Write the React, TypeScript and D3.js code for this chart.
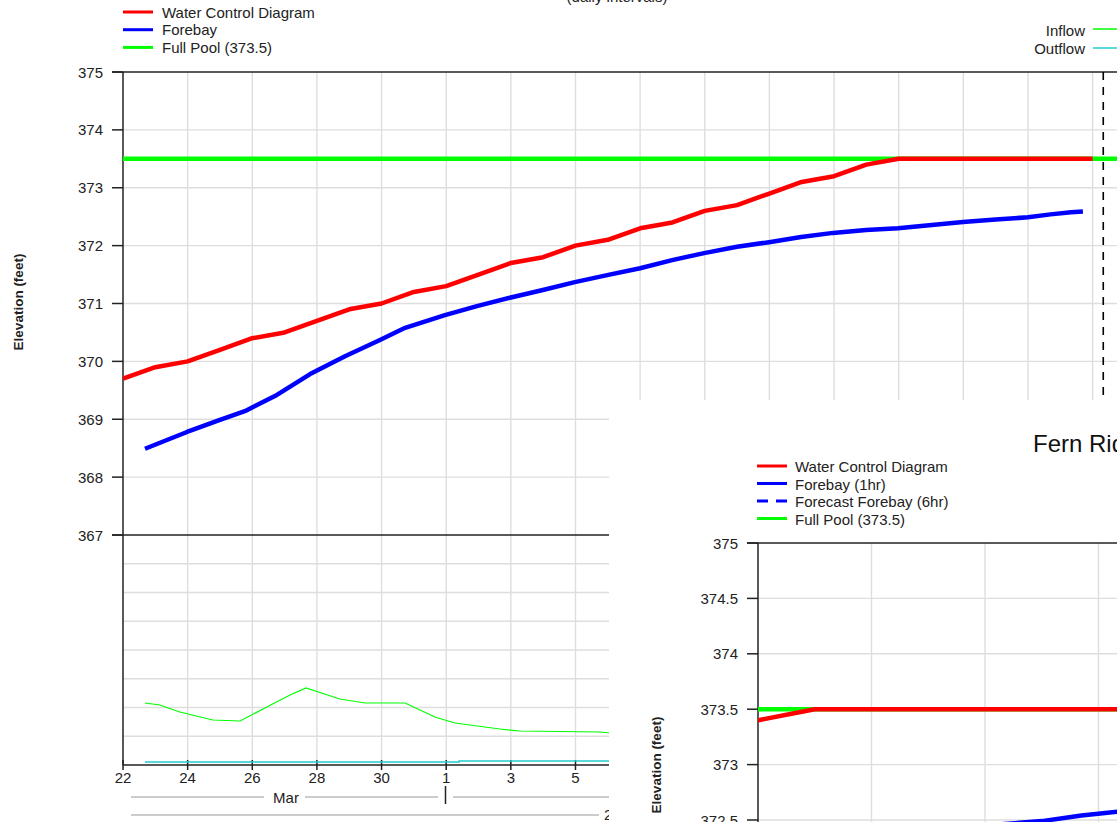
import React from 'react';
import * as d3 from 'd3';

const START = Date.UTC(2017, 2, 22);
const DAY = 86400000;
const day = (o: number) => new Date(START + o * DAY);

// Water Control Diagram (daily) – days after Mar 22
const wcdDay = [0, 1, 2, 3, 4, 5, 6, 7, 8, 9, 10, 11, 12, 13, 14, 15, 16, 17, 18, 19, 20, 21, 22, 23, 24, 25, 26, 27, 28, 29, 30];
const wcdElev = [369.7, 369.9, 370.0, 370.2, 370.4, 370.5, 370.7, 370.9, 371.0, 371.2, 371.3, 371.5, 371.7, 371.8, 372.0, 372.1, 372.3, 372.4, 372.6, 372.7, 372.9, 373.1, 373.2, 373.4, 373.5, 373.5, 373.5, 373.5, 373.5, 373.5, 373.5];

// Forebay
const forebayDay = [0.68, 1.98, 3.0, 3.77, 4.7, 5.79, 6.87, 7.95, 8.73, 9.96, 10.98, 11.97, 12.96, 13.98, 14.98, 16.0, 16.99, 17.98, 19.0, 19.99, 20.98, 21.97, 22.99, 23.98, 25.99, 27.0, 28.0, 28.7, 29.33, 29.7];
const forebayElev = [368.49, 368.78, 368.99, 369.14, 369.4, 369.78, 370.09, 370.37, 370.58, 370.8, 370.96, 371.1, 371.23, 371.37, 371.49, 371.61, 371.75, 371.87, 371.98, 372.06, 372.15, 372.22, 372.27, 372.3, 372.41, 372.45, 372.49, 372.54, 372.575, 372.59];

// Inflow / Outflow (cfs)
const inflowDay = [0.68, 1.14, 1.76, 2.78, 3.62, 4.39, 5.17, 5.66, 6.71, 7.49, 8.73, 9.65, 10.27, 11.66, 12.28, 14.76, 15.07, 16.0];
const inflowCfs = [1078, 1043, 922, 783, 765, 991, 1217, 1339, 1148, 1078, 1078, 835, 730, 626, 591, 574, 557, 550];
const outflowDay = [0.68, 10.4, 16.0];
const outflowCfs = [52, 70, 70];

const FULL_POOL = 373.5;
const NOW_DAY = 30.33;

const elevTicks = [367, 368, 369, 370, 371, 372, 373, 374, 375];
const insetTicks = [372.5, 373, 373.5, 374, 374.5, 375];
const insetTickLabels = ['372.5', '373', '373.5', '374', '374.5', '375'];
const xTickDays = [0, 2, 4, 6, 8, 10, 12, 14, 16, 18, 20, 22, 24, 26, 28, 30];
const xTickLabels = ['22', '24', '26', '28', '30', '1', '3', '5', '7', '9', '11', '13', '15', '17', '19', '21'];
const insetGridDays = [25, 27, 29];

const FONT = 'Liberation Sans, Arial, sans-serif';
const RED = '#ff0000';
const BLUE = '#0000ff';
const GREEN = '#00ff00';
const CYAN = '#22cccc';
const GRID = '#dedede';
const TXT = '#222';

export default function App() {
  const W = 1117, H = 822;
  // main chart scales
  const x = d3.scaleUtc().domain([day(0), day(31)]).range([123, 123 + 32.32 * 31]);
  const yE = d3.scaleLinear().domain([367, 375]).range([535, 72]);
  const yF = d3.scaleLinear().domain([0, 4000]).range([765, 535]);
  // inset scales
  const xi = d3.scaleUtc().domain([day(23), day(29)]).range([758, 758 + 56.75 * 6]);
  const yi = d3.scaleLinear().domain([372.5, 375]).range([820, 543]);

  const wcd = wcdDay.map((d, i) => ({ d, v: wcdElev[i] }));
  const fb = forebayDay.map((d, i) => ({ d, v: forebayElev[i] }));
  const inf = inflowDay.map((d, i) => ({ d, v: inflowCfs[i] }));
  const outf = outflowDay.map((d, i) => ({ d, v: outflowCfs[i] }));

  const lineE = d3.line<{ d: number; v: number }>().x(p => x(day(p.d))).y(p => yE(p.v));
  const lineF = d3.line<{ d: number; v: number }>().x(p => x(day(p.d))).y(p => yF(p.v));
  const lineFStep = d3.line<{ d: number; v: number }>().x(p => x(day(p.d))).y(p => yF(p.v)).curve(d3.curveStepAfter);
  const lineI = d3.line<{ d: number; v: number }>().x(p => xi(day(p.d))).y(p => yi(p.v));

  const flowGrid = yF.ticks(8).filter(t => t > 0 && t < 4000);

  return (
    <svg width={W} height={H} style={{ position: 'absolute', left: 0, top: 0, display: 'block', background: '#fff' }} fontFamily={FONT}>
      <defs>
        <clipPath id="mainclip"><rect x={123} y={72} width={W - 123} height={765 - 72} /></clipPath>
        <clipPath id="insetclip"><rect x={758} y={543} width={W - 758} height={H - 543} /></clipPath>
      </defs>
      <rect x={0} y={0} width={W} height={H} fill="#fff" />

      {/* title (cut) */}
      <text x={617} y={2} textAnchor="middle" fontSize={15} fill={TXT}>(daily intervals)</text>

      {/* grid main */}
      {xTickDays.filter(d => d > 0).map(d => (
        <line key={'vg' + d} x1={x(day(d))} x2={x(day(d))} y1={72} y2={765} stroke={GRID} strokeWidth={1.4} />
      ))}
      {elevTicks.filter(t => t > 367 && t < 375).map(t => (
        <line key={'hg' + t} x1={123} x2={W} y1={yE(t)} y2={yE(t)} stroke={GRID} strokeWidth={1.4} />
      ))}
      {flowGrid.map(t => (
        <line key={'fg' + t} x1={123} x2={W} y1={yF(t)} y2={yF(t)} stroke={GRID} strokeWidth={1.4} />
      ))}

      {/* axes main */}
      <line x1={112} x2={W} y1={72} y2={72} stroke={TXT} strokeWidth={1.5} />
      <line x1={112} x2={W} y1={535} y2={535} stroke={TXT} strokeWidth={1.5} />
      <line x1={123} x2={W} y1={765} y2={765} stroke={TXT} strokeWidth={1.5} />
      <line x1={123} x2={123} y1={72} y2={765} stroke={TXT} strokeWidth={1.5} />
      {elevTicks.map(t => (
        <g key={'yt' + t}>
          <line x1={112} x2={123} y1={yE(t)} y2={yE(t)} stroke={TXT} strokeWidth={1.5} />
          <text x={103} y={yE(t) + 5.5} textAnchor="end" fontSize={15} fill={TXT}>{String(t)}</text>
        </g>
      ))}
      {xTickDays.map((d, i) => (
        <g key={'xt' + d}>
          <line x1={x(day(d))} x2={x(day(d))} y1={760} y2={770} stroke={TXT} strokeWidth={1.5} />
          <text x={x(day(d))} y={783} textAnchor="middle" fontSize={15} fill={TXT}>{xTickLabels[i]}</text>
        </g>
      ))}
      {/* month / year band */}
      <line x1={131} x2={264} y1={797} y2={797} stroke="#999" strokeWidth={1.2} />
      <text x={286} y={802.5} textAnchor="middle" fontSize={15} fill={TXT}>Mar</text>
      <line x1={305} x2={438} y1={797} y2={797} stroke="#999" strokeWidth={1.2} />
      <line x1={445.5} x2={445.5} y1={786} y2={804} stroke={TXT} strokeWidth={1.5} />
      <line x1={453} x2={W} y1={797} y2={797} stroke="#999" strokeWidth={1.2} />
      <line x1={131} x2={599} y1={815} y2={815} stroke="#999" strokeWidth={1.2} />
      <text x={604} y={820} fontSize={15} fill={TXT}>2017</text>

      <text transform="translate(23,302) rotate(-90)" textAnchor="middle" fontSize={13.5} fontWeight="bold" fill={TXT}>Elevation (feet)</text>

      {/* data main */}
      <g clipPath="url(#mainclip)">
        <line x1={x(day(0))} x2={W} y1={yE(FULL_POOL)} y2={yE(FULL_POOL)} stroke={GREEN} strokeWidth={4.5} />
        <path d={lineE(wcd) || ''} fill="none" stroke={RED} strokeWidth={4.5} strokeLinejoin="round" />
        <path d={lineE(fb) || ''} fill="none" stroke={BLUE} strokeWidth={4.5} strokeLinejoin="round" />
        <path d={lineF(inf) || ''} fill="none" stroke={GREEN} strokeWidth={1.2} />
        <path d={lineFStep(outf) || ''} fill="none" stroke={CYAN} strokeWidth={1.5} />
      </g>
      <line x1={x(day(NOW_DAY))} x2={x(day(NOW_DAY))} y1={72} y2={765} stroke="#000" strokeWidth={1.6} strokeDasharray="8 7" />

      {/* legends main */}
      {[['Water Control Diagram', RED], ['Forebay', BLUE], ['Full Pool (373.5)', GREEN]].map(([label, c], i) => (
        <g key={'lg' + i}>
          <line x1={123} x2={153} y1={12 + i * 17.7} y2={12 + i * 17.7} stroke={c} strokeWidth={3} />
          <text x={162} y={17.5 + i * 17.7} fontSize={15} fill={TXT}>{label}</text>
        </g>
      ))}
      {[['Inflow', GREEN], ['Outflow', CYAN]].map(([label, c], i) => (
        <g key={'rg' + i}>
          <line x1={1093} x2={W} y1={29 + i * 19} y2={29 + i * 19} stroke={c} strokeWidth={1.5} />
          <text x={1085} y={35.5 + i * 18.5} textAnchor="end" fontSize={15} fill={TXT}>{label}</text>
        </g>
      ))}

      {/* ===== inset chart ===== */}
      <rect x={609} y={400} width={W - 609} height={H - 400} fill="#fff" />
      <text x={1033} y={452} fontSize={24} fill="#111">Fern Ridge</text>
      {[['Water Control Diagram', RED, ''], ['Forebay (1hr)', BLUE, ''], ['Forecast Forebay (6hr)', BLUE, '11 8'], ['Full Pool (373.5)', GREEN, '']].map(([label, c, dash], i) => (
        <g key={'il' + i}>
          <line x1={757} x2={787} y1={466 + i * 17.5} y2={466 + i * 17.5} stroke={c} strokeWidth={3} strokeDasharray={dash || undefined} />
          <text x={795} y={472 + i * 17.5} fontSize={15} fill={TXT}>{label}</text>
        </g>
      ))}
      {insetGridDays.map(d => (
        <line key={'ivg' + d} x1={xi(day(d))} x2={xi(day(d))} y1={543} y2={H} stroke={GRID} strokeWidth={1.4} />
      ))}
      {insetTicks.filter(t => t < 375).map(t => (
        <line key={'ihg' + t} x1={758} x2={W} y1={yi(t)} y2={yi(t)} stroke={GRID} strokeWidth={1.4} />
      ))}
      <line x1={747} x2={W} y1={543} y2={543} stroke={TXT} strokeWidth={1.5} />
      <line x1={758} x2={758} y1={543} y2={H} stroke={TXT} strokeWidth={1.5} />
      {insetTicks.map((t, i) => (
        <g key={'iyt' + t}>
          <line x1={747} x2={758} y1={yi(t)} y2={yi(t)} stroke={TXT} strokeWidth={1.5} />
          <text x={738} y={yi(t) + 5.5} textAnchor="end" fontSize={15} fill={TXT}>{insetTickLabels[i]}</text>
        </g>
      ))}
      <text transform="translate(661,765) rotate(-90)" textAnchor="middle" fontSize={13.5} fontWeight="bold" fill={TXT}>Elevation (feet)</text>
      <g clipPath="url(#insetclip)">
        <line x1={758} x2={W} y1={yi(FULL_POOL)} y2={yi(FULL_POOL)} stroke={GREEN} strokeWidth={4.5} />
        <path d={lineI(wcd) || ''} fill="none" stroke={RED} strokeWidth={4.5} strokeLinejoin="round" />
        <path d={lineI(fb) || ''} fill="none" stroke={BLUE} strokeWidth={4.5} strokeLinejoin="round" />
      </g>
    </svg>
  );
}
